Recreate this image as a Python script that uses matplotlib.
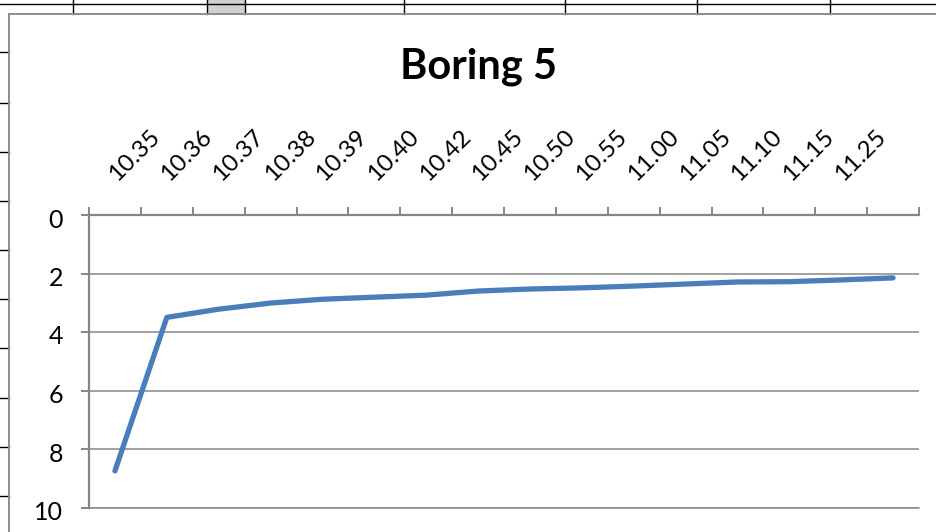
import numpy as np
import matplotlib
matplotlib.use("Agg")
import matplotlib.pyplot as plt
from matplotlib.lines import Line2D
from matplotlib.patches import Rectangle
from matplotlib.transforms import ScaledTranslation

# ---- data ----
times = ["10.35", "10.36", "10.37", "10.38", "10.39", "10.40", "10.42", "10.45",
         "10.50", "10.55", "11.00", "11.05", "11.10", "11.15", "11.25", ""]
depth = [8.75, 3.5, 3.22, 3.01, 2.88, 2.81, 2.74, 2.6,
         2.53, 2.49, 2.43, 2.36, 2.29, 2.28, 2.22, 2.15]
y_ticks = [0, 2, 4, 6, 8, 10]
title = "Boring 5"

W, H = 936, 532
plt.rcParams['font.family'] = ['Lato', 'DejaVu Sans']
fig = plt.figure(figsize=(W / 100, H / 100), dpi=100)
fig.patch.set_facecolor("white")

def fx(px):
    return px / W

def fy(py):
    return 1 - py / H

# ---- spreadsheet backdrop ----
grid_black = "#000000"
fig.add_artist(Rectangle((fx(207), fy(14)), fx(245) - fx(207), fy(0) - fy(14),
                         transform=fig.transFigure, facecolor="#D0D0D0", edgecolor="none"))
fig.add_artist(Line2D([0, 1], [fy(3.5), fy(3.5)], transform=fig.transFigure,
                      color=grid_black, lw=1.0))
for xc in [73, 207, 245, 404, 565, 697, 830]:
    fig.add_artist(Line2D([fx(xc), fx(xc)], [fy(0), fy(14)], transform=fig.transFigure,
                          color=grid_black, lw=1.0))
for yr in [52, 103, 152, 201, 250, 299, 348, 398, 447, 496]:
    fig.add_artist(Line2D([0, fx(9)], [fy(yr), fy(yr)], transform=fig.transFigure,
                          color=grid_black, lw=1.0))
# chart border
fig.add_artist(Line2D([fx(9), fx(9), 1.0], [0.0, fy(14), fy(14)], transform=fig.transFigure,
                      color="#8C8C8C", lw=1.4, solid_joinstyle="miter"))

# ---- chart ----
gray = "#868686"
left, right, top, bottom = 89, 919, 215, 507.5
ax = fig.add_axes([fx(left), fy(bottom), fx(right) - fx(left), fy(top) - fy(bottom)])
ax.set_facecolor("none")

x = np.arange(len(depth))
ax.plot(x, depth, color="#4A7EBB", lw=3.8, solid_capstyle="round",
        solid_joinstyle="round", zorder=3)

ax.set_xlim(-0.5, len(times) - 0.5)
ax.set_ylim(10, 0)

# y axis
ax.set_yticks(y_ticks)
ax.set_yticklabels([str(v) for v in y_ticks])
ax.tick_params(axis="y", which="major", direction="out", length=5.8, width=1.4,
               color=gray, pad=13, labelsize=18, labelcolor="black")
for lab in ax.get_yticklabels():
    lab.set_transform(lab.get_transform() + ScaledTranslation(0, -3 / 100, fig.dpi_scale_trans))
ax.yaxis.grid(True, color=gray, lw=1.1)
ax.set_axisbelow(True)

# x axis (categories on top)
ax.xaxis.set_ticks_position("top")
ax.set_xticks(x)
ax.set_xticks(np.arange(-0.5, len(times)), minor=True)
ax.set_xticklabels(times, rotation=45, rotation_mode="anchor", ha="left", va="baseline")
ax.tick_params(axis="x", which="major", length=0, pad=23.5, labelsize=17.5,
               labeltop=True, labelbottom=False, top=True, bottom=False)
ax.tick_params(axis="x", which="minor", direction="out", length=5.8, width=1.4,
               color=gray, top=True, bottom=False)
for lab in ax.get_xticklabels():
    lab.set_transform(lab.get_transform() + ScaledTranslation(2 / 100, 0, fig.dpi_scale_trans))

for side in ["left", "top"]:
    ax.spines[side].set_color(gray)
    ax.spines[side].set_linewidth(1.6)
ax.spines["bottom"].set_color(gray)
ax.spines["bottom"].set_linewidth(1.1)
ax.spines["right"].set_visible(False)

fig.text(fx(479), fy(78), title, ha="center", va="baseline", fontsize=30,
         fontweight="bold", color="black")

fig.savefig("out.png", dpi=100, facecolor="white")
